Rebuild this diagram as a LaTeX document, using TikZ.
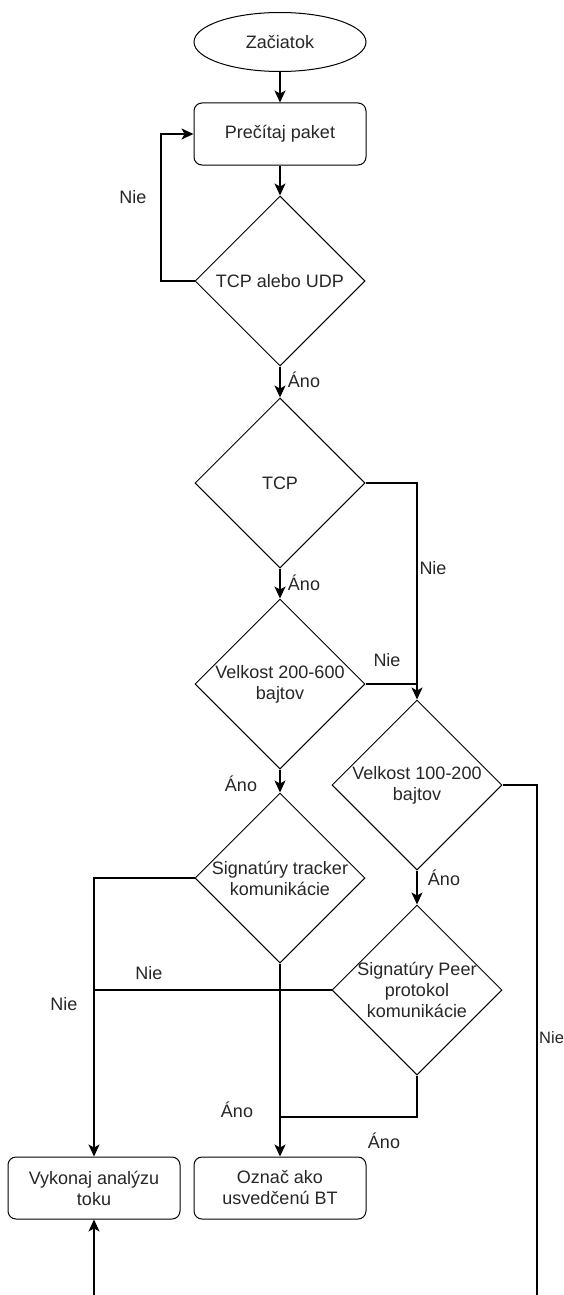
\documentclass[tikz,border=0pt]{standalone}
\usepackage{fontspec}
\setmainfont{Liberation Sans}
\usetikzlibrary{shapes.geometric,arrows.meta}

\begin{document}
\begin{tikzpicture}[x=1pt,y=-1pt,font=\fontsize{18pt}{21pt}\selectfont,
    every node/.style={text=black!85},
    dec/.style={diamond,draw,line width=1pt,minimum width=170pt,minimum height=170pt,inner sep=0pt},
    blk/.style={rectangle,draw,line width=1pt,rounded corners=8pt,minimum width=172pt,minimum height=62pt,align=center},
    lnk/.style={line width=1.3pt},
    arr/.style={lnk,-{Stealth[length=12pt,width=11pt,inset=3pt]}}]
  \useasboundingbox (0,0) rectangle (564,1295);

  \node[ellipse,draw,line width=1pt,minimum width=172pt,minimum height=59pt,inner sep=0pt] (start) at (280,42) {Začiatok};
  \node[blk] (read) at (280,134) {Prečítaj paket};
  \node[dec,label={center:TCP alebo UDP}] (tu) at (280,281) {};
  \node[dec,label={center:TCP}] (tcp) at (280,483) {};
  \node[dec,label={[align=center]center:{Velkost 200-600\\bajtov}}] (v1) at (280,684) {};
  \node[dec,label={[align=center]center:{Velkost 100-200\\bajtov}}] (v2) at (417,785) {};
  \node[dec,label={[align=center]center:{Signatúry tracker\\komunikácie}}] (trk) at (280,878) {};
  \node[dec,label={[align=center]center:{Signatúry Peer\\protokol\\komunikácie}}] (peer) at (417,990) {};
  \node[blk] (flow) at (94,1188) {Vykonaj analýzu\\toku};
  \node[blk] (bt) at (280,1188) {Označ ako\\usvedčenú BT};

  \coordinate (j) at (280,1117);
  \coordinate (e1) at (537,1295);
  \coordinate (e2) at (94,1295);

  % main flow
  \draw[arr] (start) -- (read);
  \draw[arr] (read) -- (tu);
  \draw[arr] (tu.west) -- (161,281) |- (read.west);
  \draw[arr] (tu) -- (tcp);
  \draw[arr] (tcp) -- (v1);
  \draw[arr] (tcp.east) -| (v2.north);
  \draw[lnk] (v1.east) -- (v1.east -| v2.north);
  \draw[arr] (v1) -- (trk);
  \draw[arr] (v2) -- (peer);
  \draw[arr] (trk.west) -| (flow.north);
  \draw[lnk] (peer.west) -- (peer.west -| flow.north);
  \draw[arr] (trk) -- (bt);
  \draw[lnk] (peer.south) |- (j);
  \draw[lnk] (v2.east) -| (e1);
  \draw[arr] (e2) -- (flow.south);

  % labels
  \node (n1) at (133,197) {Nie};
  \node (a1) at (304,380) {Áno};
  \node (a2) at (304,583) {Áno};
  \node (n2) at (433,568) {Nie};
  \node (n3) at (387,660) {Nie};
  \node (a3) at (241,784) {Áno};
  \node (a4) at (444,878) {Áno};
  \node (n4) at (149,973) {Nie};
  \node (n5) at (64,1004) {Nie};
  \node[anchor=west,inner sep=0pt,font=\fontsize{16.5pt}{20pt}\selectfont] (n6) at (539,1038) {Nie};
  \node (a5) at (237,1110) {Áno};
  \node (a6) at (384,1141) {Áno};
\end{tikzpicture}
\end{document}
